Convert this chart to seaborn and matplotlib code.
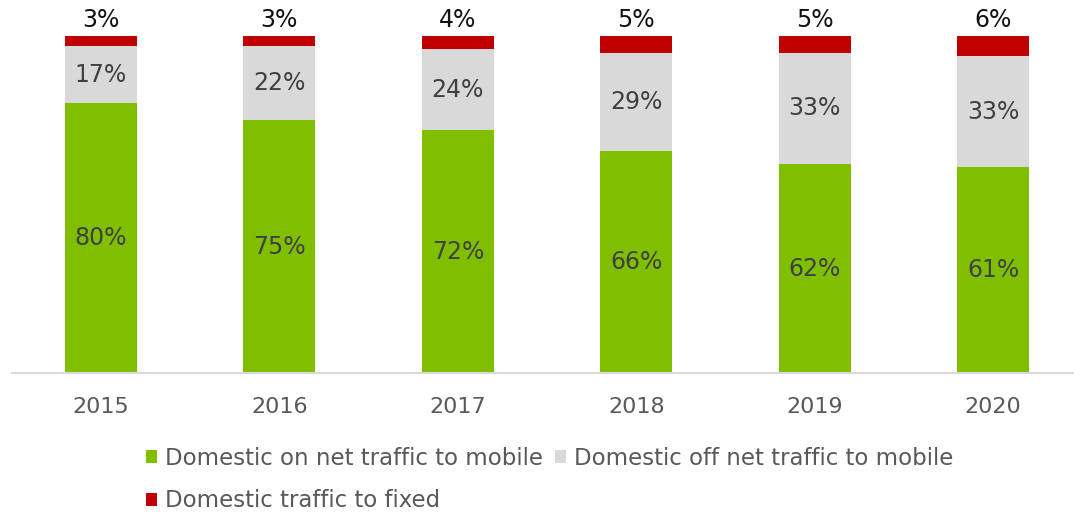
import matplotlib
matplotlib.use("Agg")
import matplotlib.pyplot as plt
from matplotlib.patches import Patch
import numpy as np
import pandas as pd
import seaborn as sns

years = ["2015", "2016", "2017", "2018", "2019", "2020"]
on_net_mobile = [80, 75, 72, 66, 62, 61]
off_net_mobile = [17, 22, 24, 29, 33, 33]
to_fixed = [3, 3, 4, 5, 5, 6]
series_names = [
    "Domestic on net traffic to mobile",
    "Domestic off net traffic to mobile",
    "Domestic traffic to fixed",
]
colors = ["#7fbf00", "#d9d9d9", "#c00000"]

sns.set_theme(style="white")
plt.rcParams["font.family"] = ["DejaVu Sans"]

df = pd.DataFrame({
    "year": years,
    "green": on_net_mobile,
    "grey": off_net_mobile,
    "red": to_fixed,
})
df["cum_green"] = df["green"]
df["cum_grey"] = df["green"] + df["grey"]
df["cum_red"] = df["cum_grey"] + df["red"]

fig = plt.figure(figsize=(10.74, 5.13), dpi=100)
W, H = 1074, 513
ax = fig.add_axes([12 / W, 1 - 373 / H, (1074 - 12) / W, (373 - 36) / H])

bw = 0.404
# stacked by overlaying cumulative totals, tallest first
for col, c in [("cum_red", colors[2]), ("cum_grey", colors[1]), ("cum_green", colors[0])]:
    sns.barplot(data=df, x="year", y=col, color=c, width=bw, ax=ax,
                saturation=1, edgecolor="none", linewidth=0)

ax.set_xlim(-0.499, 5.454)
ax.set_ylim(0, 100)
ax.set_xlabel("")
ax.set_ylabel("")
ax.set_yticks([])
for s in ["top", "right", "left"]:
    ax.spines[s].set_visible(False)
ax.spines["bottom"].set_color("#d9d9d9")
ax.spines["bottom"].set_linewidth(1.5)
ax.tick_params(axis="x", length=0, pad=17, labelsize=16, labelcolor="#595959")

lab_kw = dict(ha="center", va="center", fontsize=17, color="#404040")
for i in range(len(years)):
    g = on_net_mobile[i]
    o = off_net_mobile[i]
    r = to_fixed[i]
    ax.text(i, g / 2, f"{g}%", **lab_kw)
    ax.text(i, g + o / 2, f"{o}%", **lab_kw)
    ax.text(i, g + o + r + 1.3, f"{r}%", ha="center", va="bottom",
            fontsize=17, color="#111111", clip_on=False)

handles = [
    Patch(facecolor=colors[0], edgecolor="none", label=series_names[0]),
    Patch(facecolor=colors[2], edgecolor="none", label=series_names[2]),
    Patch(facecolor=colors[1], edgecolor="none", label=series_names[1]),
]
leg = fig.legend(handles=handles, ncol=2, loc="upper left",
                 bbox_to_anchor=(146 / W, 1 - 447 / H), frameon=False,
                 fontsize=16.5, labelcolor="#595959", handlelength=0.5,
                 handleheight=0.5, handletextpad=0.35, columnspacing=0.5,
                 labelspacing=0.85, borderaxespad=0, borderpad=0)

fig.savefig("out.png", dpi=100)
